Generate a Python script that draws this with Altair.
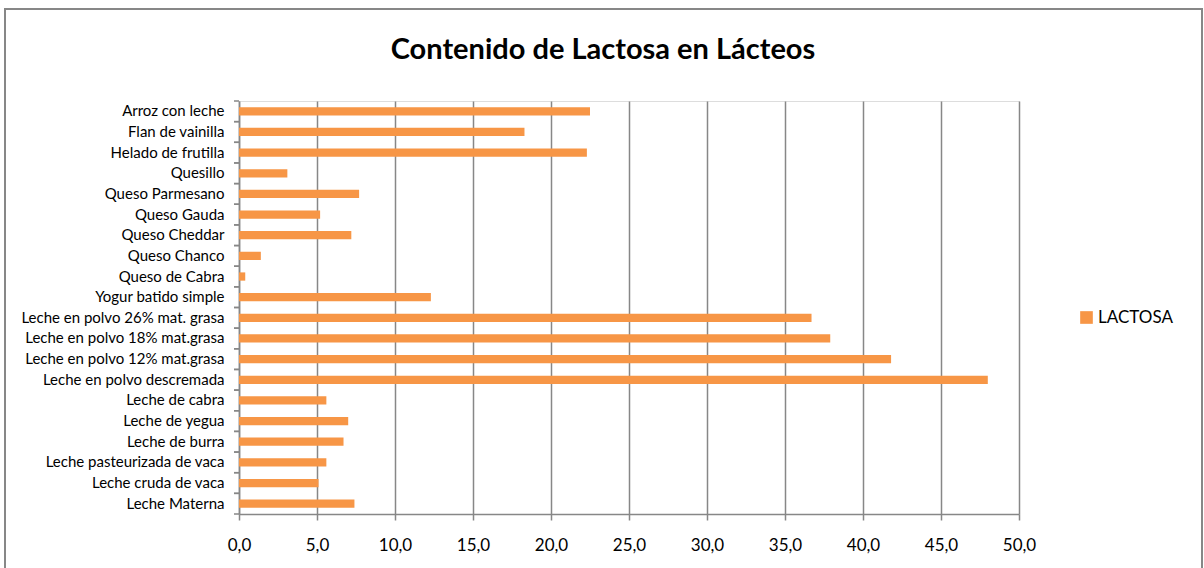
import altair as alt
import pandas as pd

# Lactose content (g per 100 g), listed from the top row down
productos = [
    "Arroz con leche",
    "Flan de vainilla",
    "Helado de frutilla",
    "Quesillo",
    "Queso Parmesano",
    "Queso Gauda",
    "Queso Cheddar",
    "Queso Chanco ",
    "Queso de Cabra",
    "Yogur batido simple",
    "Leche en polvo 26% mat. grasa",
    "Leche en polvo 18% mat.grasa",
    "Leche en polvo 12% mat.grasa",
    "Leche en polvo descremada",
    "Leche de cabra",
    "Leche de yegua",
    "Leche de burra",
    "Leche pasteurizada de vaca",
    "Leche cruda de vaca",
    "Leche Materna",
]
lactosa = [22.5, 18.3, 22.3, 3.1, 7.7, 5.2, 7.2, 1.4, 0.4, 12.3,
           36.7, 37.9, 41.8, 48.0, 5.6, 7.0, 6.7, 5.6, 5.1, 7.4]
serie = "LACTOSA"
x_ticks = [0, 5, 10, 15, 20, 25, 30, 35, 40, 45, 50]

df = pd.DataFrame({"producto": productos, "lactosa": lactosa, "serie": serie})

GRAY = "#878787"
ORANGE = "#F79646"
FONT = "Lato"

y_enc = alt.Y(
    "producto:N",
    sort=None,
    scale=alt.Scale(paddingInner=0, paddingOuter=0),
    axis=alt.Axis(
        title=None, ticks=False, labelPadding=15, labelFont=FONT,
        labelFontSize=15, labelColor="#000000", labelLimit=0,
        domainColor=GRAY, domainWidth=1.5, grid=False,
    ),
)

bars = alt.Chart(df).mark_bar(height=alt.RelativeBandSize(0.4), color=ORANGE).encode(
    x=alt.X(
        "lactosa:Q",
        scale=alt.Scale(domain=[0, 50], nice=False),
        axis=alt.Axis(
            title=None, values=x_ticks, grid=True, gridColor=GRAY, gridWidth=1.5,
            domainColor=GRAY, domainWidth=1.5, tickColor=GRAY, tickWidth=1.5,
            tickSize=6, labelPadding=17, labelFont=FONT, labelFontSize=17,
            labelColor="#000000", labelFlush=False,
            labelExpr="replace(format(datum.value, '.1f'), '.', ',')",
        ),
    ),
    y=y_enc,
    color=alt.Color(
        "serie:N",
        scale=alt.Scale(range=[ORANGE]),
        legend=alt.Legend(
            title=None, orient="none", legendX=839, legendY=208,
            symbolType="square", symbolSize=160, symbolStrokeWidth=0,
            labelFont=FONT, labelFontSize=17, labelColor="#000000",
            labelOffset=3,
        ),
    ),
)

# Category separator ticks on the left axis, at both edges of each band
tick_top = alt.Chart(df).mark_rule(color=GRAY, strokeWidth=1.5).encode(
    y=alt.Y("producto:N", sort=None, bandPosition=0),
    x=alt.value(-5),
    x2=alt.value(0),
)
tick_bottom = alt.Chart(df).mark_rule(color=GRAY, strokeWidth=1.5).encode(
    y=alt.Y("producto:N", sort=None, bandPosition=1),
    x=alt.value(-5),
    x2=alt.value(0),
)

# Outer frame of the chart
frame = alt.Chart(df.head(1)).mark_rect(fill=None, stroke=GRAY, strokeWidth=2).encode(
    x=alt.value(-234),
    x2=alt.value(963),
    y=alt.value(-92),
    y2=alt.value(520),
)

chart = alt.layer(frame, bars, tick_top, tick_bottom).properties(
    width=780,
    height=413,
    autosize=alt.AutoSizeParams(type="none"),
    padding={"left": 239, "top": 101, "right": 185, "bottom": 54},
    title=alt.TitleParams(
        "Contenido de Lactosa en Lácteos",
        font=FONT, fontSize=29, fontWeight="bold", color="#000000",
        anchor="middle", dx=-26, offset=-57,
    ),
).configure_view(stroke=None).configure(background="white")

chart.save("out.html", embed_options={"renderer": "svg", "actions": False})
